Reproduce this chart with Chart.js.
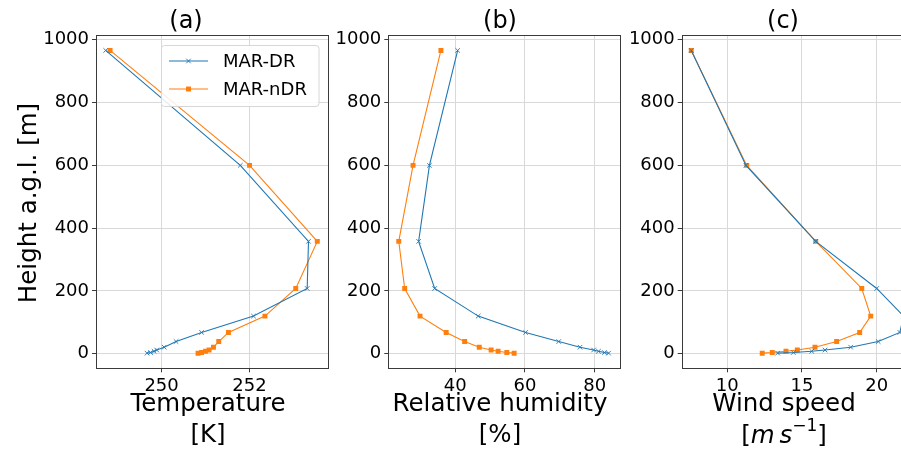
<!DOCTYPE html>
<html>
<head>
<meta charset="utf-8">
<script src="https://cdn.jsdelivr.net/npm/chart.js@4.4.1/dist/chart.umd.min.js"></script>
<style>
html, body { margin: 0; padding: 0; background: #fff; overflow: hidden; width: 901px; height: 457px; }
canvas { position: absolute; top: 0; }
</style>
</head>
<body>
<canvas id="chartA" width="340" height="457" style="left:0px"></canvas>
<canvas id="chartB" width="300" height="457" style="left:325px"></canvas>
<canvas id="chartC" width="300" height="457" style="left:620px"></canvas>
<script>
// model levels (height above ground, m)
const heights = [966, 600, 358, 208, 120, 68, 39, 21, 12, 8, 4, 2];

// (a) temperature [K]
const tempDR  = [248.73, 251.79, 253.34, 253.31, 252.09, 250.91, 250.33, 250.06, 249.89, 249.83, 249.75, 249.67];
const tempNDR = [248.83, 252.00, 253.54, 253.05, 252.35, 251.52, 251.30, 251.18, 251.08, 251.00, 250.91, 250.83];

// (b) relative humidity [%]
const rhDR  = [40.7, 32.6, 29.5, 34.1, 46.6, 60.2, 69.7, 75.8, 79.7, 81.1, 82.8, 84.0];
const rhNDR = [35.9, 27.9, 23.8, 25.5, 29.9, 37.4, 42.7, 46.9, 50.3, 52.3, 54.8, 56.9];

// (c) wind speed [m s-1]
const wsDR  = [7.59, 11.25, 15.92, 20.0, 21.8, 21.55, 20.1, 18.26, 16.54, 15.65, 14.42, 13.37];
const wsNDR = [7.59, 11.30, 15.92, 19.0, 19.6, 18.86, 17.32, 15.87, 14.69, 13.93, 13.01, 12.34];

// tick labels
const yTicks = [0, 200, 400, 600, 800, 1000];
const tempTicks = [250, 252];
const rhTicks = [40, 60, 80];
const wsTicks = [10, 15, 20];

const seriesNames = ['MAR-DR', 'MAR-nDR'];

const FONT = 'DejaVu Sans';
const BLUE = '#1f77b4';
const ORANGE = '#ff7f0e';

const blueStyle = { pointStyle: 'crossRot', radius: 3.2, borderWidth: 0.9, borderColor: BLUE, backgroundColor: BLUE };
const orangeStyle = { pointStyle: 'rect', radius: 3.5, borderWidth: 0, borderColor: ORANGE, backgroundColor: ORANGE };

// frame around the plotting area (matplotlib spines)
const framePlugin = {
  id: 'frame',
  afterDatasetsDraw(chart) {
    const { ctx, chartArea: a } = chart;
    ctx.save();
    ctx.strokeStyle = '#3a3a3a';
    ctx.lineWidth = 1;
    ctx.strokeRect(Math.round(a.left) + 0.5, Math.round(a.top) + 0.5,
      Math.round(a.right - a.left), Math.round(a.bottom - a.top));
    ctx.restore();
  }
};

function drawWindUnit(ctx, cx, cy) {
  const big = `24.5px "${FONT}"`, it = `italic 24.5px "${FONT}"`, sup = `17px "${FONT}"`;
  const parts = [
    [big, '[', 0], [it, 'm', 0], [big, '\u2009', 0], [it, 's', 0], [sup, '\u22121', -10], [big, ']', 0]
  ];
  let total = 0;
  parts.forEach(p => { ctx.font = p[0]; total += ctx.measureText(p[1]).width; });
  let x = cx - total / 2;
  ctx.textAlign = 'left';
  parts.forEach(p => {
    ctx.font = p[0];
    ctx.fillText(p[1], x, cy + p[2]);
    x += ctx.measureText(p[1]).width;
  });
}

// titles, axis labels and the legend
const textPlugin = {
  id: 'panelText',
  afterDraw(chart, args, o) {
    const ctx = chart.ctx;
    ctx.save();
    ctx.fillStyle = '#000';
    ctx.textAlign = 'center';
    ctx.textBaseline = 'middle';
    ctx.font = `24px "${FONT}"`;
    ctx.fillText(o.title, o.titleX, 22);
    ctx.font = `24.5px "${FONT}"`;
    ctx.fillText(o.label[0], o.labelX, 405);
    if (o.windUnit) {
      drawWindUnit(ctx, o.labelX, 437);
    } else {
      ctx.fillText(o.label[1], o.labelX, 436);
    }
    if (o.yLabel) {
      ctx.save();
      ctx.translate(30, 203);
      ctx.rotate(-Math.PI / 2);
      ctx.font = `24.5px "${FONT}"`;
      ctx.textAlign = 'center';
      ctx.fillText(o.yLabel, 0, 0);
      ctx.restore();
    }
    if (o.legend) {
      const lx = 161.5, ly = 45.5, lw = 157.5, lh = 61;
      ctx.beginPath();
      ctx.roundRect(lx, ly, lw, lh, 3);
      ctx.fillStyle = 'rgba(255,255,255,0.85)';
      ctx.fill();
      ctx.strokeStyle = '#d6d6d6';
      ctx.lineWidth = 1;
      ctx.stroke();
      const rows = [[61, BLUE, blueStyle], [89, ORANGE, orangeStyle]];
      rows.forEach((r, i) => {
        ctx.beginPath();
        ctx.strokeStyle = r[1];
        ctx.lineWidth = 1.1;
        ctx.moveTo(169, r[0]);
        ctx.lineTo(208, r[0]);
        ctx.stroke();
        ctx.fillStyle = r[1];
        ctx.strokeStyle = r[1];
        ctx.lineWidth = r[2].borderWidth;
        Chart.helpers.drawPoint(ctx, r[2], 188.5, r[0]);
        ctx.fillStyle = '#000';
        ctx.textAlign = 'left';
        ctx.font = `18px "${FONT}"`;
        ctx.fillText(seriesNames[i], 223, r[0] + 1);
      });
    }
    ctx.restore();
  }
};

function toPoints(xs) {
  return heights.map((h, i) => ({ x: xs[i], y: h }));
}

function makePanel(canvasId, cfg) {
  const axisFont = { family: FONT, size: 18 };
  const grid = { color: '#d9d9d9', lineWidth: 1, tickColor: '#3a3a3a', tickLength: 4, tickWidth: 1 };
  return new Chart(document.getElementById(canvasId), {
    type: 'scatter',
    data: {
      datasets: [
        { label: seriesNames[0], data: toPoints(cfg.dr), showLine: true, borderColor: BLUE, backgroundColor: BLUE,
          borderWidth: 1.1, pointStyle: 'crossRot', pointRadius: blueStyle.radius, pointBorderWidth: blueStyle.borderWidth,
          pointBorderColor: BLUE },
        { label: seriesNames[1], data: toPoints(cfg.ndr), showLine: true, borderColor: ORANGE, backgroundColor: ORANGE,
          borderWidth: 1.1, pointStyle: 'rect', pointRadius: orangeStyle.radius, pointBorderWidth: 0 }
      ]
    },
    options: {
      responsive: false,
      animation: false,
      layout: { padding: { top: 35.3, right: cfg.padRight, left: 0, bottom: 0 } },
      plugins: {
        legend: { display: false },
        tooltip: { enabled: false },
        panelText: cfg.text
      },
      scales: {
        x: {
          type: 'linear', min: cfg.xMin, max: cfg.xMax,
          afterBuildTicks: s => { s.ticks = cfg.xTicks.map(v => ({ value: v })); },
          afterFit: s => { s.height = 457 - 368.3; },
          grid: grid,
          border: { display: false },
          ticks: { font: axisFont, color: '#000', padding: 3, autoSkip: false, maxRotation: 0, callback: v => String(v) }
        },
        y: {
          type: 'linear', min: -46.2, max: 1014.2,
          afterBuildTicks: s => { s.ticks = yTicks.map(v => ({ value: v })); },
          afterFit: s => { s.width = cfg.yWidth; },
          grid: grid,
          border: { display: false },
          ticks: { font: axisFont, color: '#000', padding: 3, autoSkip: false, callback: v => String(v) }
        }
      }
    },
    plugins: [framePlugin, textPlugin]
  });
}

makePanel('chartA', {
  dr: tempDR, ndr: tempNDR, xMin: 248.51, xMax: 253.79, xTicks: tempTicks,
  yWidth: 96, padRight: 340 - 328.3,
  text: { title: '(a)', titleX: 186, label: ['Temperature', '[K]'], labelX: 208, yLabel: 'Height a.g.l. [m]', legend: true }
});

makePanel('chartB', {
  dr: rhDR, ndr: rhNDR, xMin: 20.8, xMax: 87.3, xTicks: rhTicks,
  yWidth: 388.3 - 325, padRight: 625 - 621.7,
  text: { title: '(b)', titleX: 500 - 325, label: ['Relative humidity', '[%]'], labelX: 500 - 325 }
});

makePanel('chartC', {
  dr: wsDR, ndr: wsNDR, xMin: 6.95, xMax: 22.53, xTicks: wsTicks,
  yWidth: 681.7 - 620, padRight: 920 - 914.5,
  text: { title: '(c)', titleX: 783 - 620, label: ['Wind speed', ''], labelX: 784 - 620, windUnit: true }
});
</script>
</body>
</html>
